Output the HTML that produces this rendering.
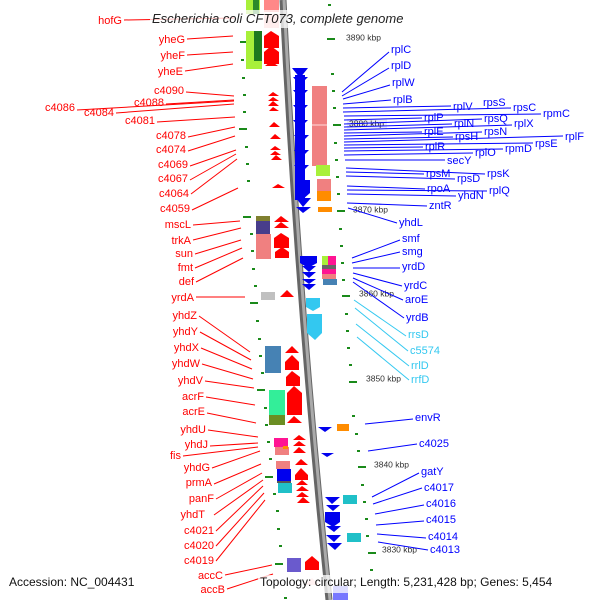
<!DOCTYPE html>
<html><head><meta charset="utf-8"><style>
html,body{margin:0;padding:0;background:#fff;width:600px;height:600px;overflow:hidden}
svg text{font-family:"Liberation Sans",sans-serif}
.r{fill:#f00;font-size:11px;text-anchor:end;dominant-baseline:middle}
.b{fill:#00f;font-size:11px;dominant-baseline:middle}
.c{fill:#33c8f0;font-size:11px;dominant-baseline:middle}
.k{fill:#333;font-size:8.5px;dominant-baseline:middle}
.lr line{stroke:#f00;stroke-width:1}
.lb line{stroke:#00f;stroke-width:1}
.lc line{stroke:#33c8f0;stroke-width:1}
.tk rect{fill:#1a8a1a}
</style></head><body>
<svg width="600" height="600" viewBox="0 0 600 600" xmlns="http://www.w3.org/2000/svg">
<!-- backbone -->
<path d="M283,0 Q298,300 329,600" stroke="#666" stroke-width="7" fill="none"/>
<path d="M284,0 Q299,300 330,600" stroke="#aaa" stroke-width="3" fill="none"/>

<!-- ticks left -->
<g class="tk">
<rect x="240" y="41" width="8" height="2"/><rect x="241" y="59" width="3" height="2"/><rect x="242" y="77" width="3" height="2"/>
<rect x="243" y="94" width="3" height="2"/><rect x="243" y="111" width="3" height="2"/><rect x="239" y="128" width="8" height="2"/>
<rect x="245" y="146" width="3" height="2"/><rect x="246" y="163" width="3" height="2"/><rect x="247" y="180" width="3" height="2"/>
<rect x="243" y="216" width="8" height="2"/><rect x="250" y="233" width="3" height="2"/><rect x="251" y="250" width="3" height="2"/>
<rect x="252" y="268" width="3" height="2"/><rect x="254" y="285" width="3" height="2"/><rect x="250" y="302" width="8" height="2"/>
<rect x="256" y="320" width="3" height="2"/><rect x="258" y="338" width="3" height="2"/><rect x="259" y="355" width="3" height="2"/>
<rect x="261" y="372" width="3" height="2"/><rect x="257" y="389" width="8" height="2"/><rect x="264" y="407" width="3" height="2"/>
<rect x="265" y="424" width="3" height="2"/><rect x="267" y="441" width="3" height="2"/><rect x="269" y="458" width="3" height="2"/>
<rect x="265" y="476" width="8" height="2"/><rect x="273" y="493" width="3" height="2"/><rect x="276" y="510" width="3" height="2"/>
<rect x="277" y="528" width="3" height="2"/><rect x="279" y="545" width="3" height="2"/><rect x="275" y="563" width="8" height="2"/>
<rect x="284" y="597" width="3" height="2"/>
</g>
<!-- ticks right -->
<g class="tk">
<rect x="328" y="4" width="3" height="2"/><rect x="327" y="38" width="8" height="2"/><rect x="331" y="73" width="3" height="2"/>
<rect x="332" y="90" width="3" height="2"/><rect x="333" y="107" width="3" height="2"/><rect x="333" y="124" width="8" height="2"/>
<rect x="334" y="142" width="3" height="2"/><rect x="335" y="159" width="3" height="2"/><rect x="336" y="176" width="3" height="2"/>
<rect x="337" y="193" width="3" height="2"/><rect x="337" y="210" width="8" height="2"/><rect x="339" y="228" width="3" height="2"/>
<rect x="340" y="245" width="3" height="2"/><rect x="341" y="262" width="3" height="2"/><rect x="342" y="279" width="3" height="2"/>
<rect x="342" y="295" width="8" height="2"/><rect x="345" y="313" width="3" height="2"/><rect x="346" y="330" width="3" height="2"/>
<rect x="347" y="347" width="3" height="2"/><rect x="349" y="364" width="3" height="2"/><rect x="349" y="381" width="8" height="2"/>
<rect x="352" y="415" width="3" height="2"/><rect x="355" y="433" width="3" height="2"/><rect x="357" y="450" width="3" height="2"/>
<rect x="358" y="466" width="8" height="2"/><rect x="361" y="484" width="3" height="2"/><rect x="363" y="501" width="3" height="2"/>
<rect x="365" y="518" width="3" height="2"/><rect x="366" y="535" width="3" height="2"/><rect x="368" y="552" width="8" height="2"/>
<rect x="370" y="569" width="3" height="2"/>
</g>

<!-- left feature boxes -->
<rect x="246" y="0" width="14" height="14" fill="#a8f03a"/><rect x="253" y="0" width="6" height="14" fill="#2a8a2a"/>
<rect x="246" y="31" width="16" height="38" fill="#a8f03a"/><rect x="254" y="31" width="8" height="30" fill="#1e7a1e"/>
<rect x="256" y="216" width="14" height="5" fill="#808030"/>
<rect x="256" y="221" width="14" height="13" fill="#483d8b"/>
<rect x="256" y="234" width="15" height="25" fill="#f08080"/>
<rect x="261" y="292" width="14" height="8" fill="#c0c0c0"/>
<rect x="265" y="346" width="16" height="27" fill="#4682b4"/>
<rect x="269" y="390" width="16" height="25" fill="#33ee99"/><rect x="269" y="415" width="16" height="10" fill="#6b8e23"/>
<rect x="274" y="438" width="14" height="9" fill="#ff1493"/><rect x="275" y="447" width="14" height="8" fill="#f08080"/>
<rect x="283" y="446" width="5" height="3" fill="#ff8c00"/>
<rect x="276" y="461" width="14" height="8" fill="#f08080"/><rect x="277" y="469" width="14" height="12" fill="#0000ee"/>
<rect x="277" y="481" width="14" height="2" fill="#555"/><rect x="278" y="483" width="14" height="10" fill="#20c0c8"/>
<rect x="287" y="558" width="14" height="14" fill="#6a5acd"/>

<!-- left red arrows (up) -->
<g fill="#f00">
<rect x="264" y="0" width="15" height="12" fill="#f88"/>
<polygon points="264,14 279,14 279,28 264,28" fill="#fbb"/>
<polygon points="264,36 271,31 279,36 279,48 264,48"/>
<polygon points="264,52 271,46 279,52 279,64 264,64"/>
<polygon points="265,66 271,61 278,66"/>
<polygon points="268,96 273,92 279,96"/><polygon points="268,101 273,97 279,101"/><polygon points="268,106 273,101 279,106"/><polygon points="269,111 273,107 279,111"/>
<polygon points="269,127 274,122 280,127"/>
<polygon points="270,139 275,134 281,139"/><polygon points="270,150 275,146 281,150"/><polygon points="270,155 275,151 281,155"/><polygon points="271,160 276,155 282,160"/>
<polygon points="272,188 278,184 285,188"/>
<polygon points="274,222 281,216 289,222"/><polygon points="274,228 281,222 289,228"/>
<polygon points="274,238 281,233 289,238 289,248 274,248"/>
<polygon points="275,252 282,247 289,252 289,258 275,258"/>
<polygon points="280,297 287,290 294,297"/>
<polygon points="285,353 292,346 299,353"/><polygon points="285,362 292,355 299,362 299,370 285,370"/><polygon points="286,377 292,371 300,377 300,386 286,386"/>
<polygon points="287,393 294,386 302,393 302,415 287,415"/><polygon points="287,423 294,416 302,423"/>
<polygon points="293,440 299,435 306,440"/><polygon points="293,446 299,441 306,446"/><polygon points="293,453 299,447 306,453"/>
<polygon points="295,465 301,459 308,465"/><polygon points="295,475 301,468 308,475 308,480 295,480"/><polygon points="296,485 302,480 308,485"/><polygon points="296,491 302,486 309,491"/><polygon points="296,497 302,492 309,497"/><polygon points="297,503 303,497 310,503"/>
<polygon points="305,562 312,556 319,562 319,570 305,570"/>
<polygon points="305,585 312,578 319,585" fill="#fcc"/>
</g>

<!-- right blue arrows (down) -->
<g fill="#0000ee">
<polygon points="292,68 308,68 300,78"/>
<rect x="295" y="75" width="10" height="125"/>
<polygon points="293,77 308,77 300,85"/><polygon points="293,90 308,90 300,98"/><polygon points="293,105 308,105 300,113"/><polygon points="293,120 308,120 300,128"/><polygon points="294,135 309,135 301,143"/><polygon points="294,150 309,150 301,158"/><polygon points="294,165 309,165 301,173"/>
<polygon points="295,180 310,180 310,193 302,200 295,193"/>
<polygon points="296,198 311,198 303,207"/><polygon points="296,207 311,207 303,213"/>
<polygon points="300,256 317,256 317,263 308,268 300,263"/><polygon points="302,266 316,266 309,272"/><polygon points="302,272 316,272 309,278"/><polygon points="302,279 316,279 309,284"/><polygon points="302,284 316,284 309,290"/>
<polygon points="318,427 332,427 325,432"/><polygon points="321,453 334,453 327,457"/>
<polygon points="325,497 340,497 332,504"/><polygon points="326,505 340,505 333,511"/><polygon points="325,512 340,512 340,522 333,527 325,522"/><polygon points="326,526 341,526 334,532"/><polygon points="326,535 341,535 334,542"/><polygon points="327,543 342,543 335,550"/>
<rect x="333" y="586" width="15" height="14" fill="#77f"/>
</g>
<g fill="#33c8f0">
<polygon points="306,298 320,298 320,307 313,311 306,307"/>
<polygon points="307,314 322,314 322,333 315,340 307,333"/>
</g>

<!-- right boxes -->
<rect x="312" y="86" width="15" height="80" fill="#f08080"/>
<line x1="312" y1="125" x2="327" y2="125" stroke="#fdd"/>
<rect x="316" y="165" width="14" height="11" fill="#a8f03a"/>
<rect x="317" y="179" width="14" height="12" fill="#f08080"/>
<rect x="317" y="191" width="14" height="10" fill="#ff8c00"/>
<rect x="318" y="207" width="14" height="5" fill="#ff8c00"/>
<rect x="322" y="256" width="6" height="9" fill="#a8f03a"/><rect x="328" y="256" width="8" height="9" fill="#ff1493"/>
<rect x="322" y="265" width="14" height="4" fill="#666"/>
<rect x="322" y="269" width="14" height="5" fill="#ff1493"/>
<rect x="322" y="274" width="14" height="5" fill="#f08080"/>
<rect x="323" y="279" width="14" height="6" fill="#4682b4"/>
<rect x="337" y="424" width="12" height="7" fill="#ff8c00"/>
<rect x="343" y="495" width="14" height="9" fill="#20c0c8"/>
<rect x="347" y="533" width="14" height="9" fill="#20c0c8"/>

<!-- kbp labels -->
<text class="k" x="346" y="38">3890 kbp</text>
<rect x="347" y="119" width="40" height="10" fill="#dde" opacity="0.6"/>
<text class="k" x="349" y="124">3880 kbp</text>
<text class="k" x="353" y="210">3870 kbp</text>
<text class="k" x="359" y="294">3860 kbp</text>
<text class="k" x="366" y="379">3850 kbp</text>
<text class="k" x="374" y="465">3840 kbp</text>
<text class="k" x="382" y="550">3830 kbp</text>

<!-- left labels -->
<g class="lr">
<line x1="124" y1="20" x2="234" y2="18"/><line x1="187" y1="39" x2="233" y2="36"/><line x1="187" y1="55" x2="233" y2="52"/><line x1="185" y1="71" x2="233" y2="64"/>
<line x1="186" y1="92" x2="234" y2="96"/><line x1="166" y1="104" x2="234" y2="100"/><line x1="77" y1="110" x2="234" y2="101"/><line x1="116" y1="113" x2="234" y2="104"/>
<line x1="157" y1="122" x2="235" y2="117"/><line x1="188" y1="137" x2="235" y2="127"/><line x1="188" y1="151" x2="235" y2="136"/><line x1="190" y1="166" x2="236" y2="150"/>
<line x1="190" y1="180" x2="236" y2="154"/><line x1="191" y1="194" x2="237" y2="159"/><line x1="192" y1="210" x2="238" y2="188"/>
<line x1="193" y1="225" x2="240" y2="221"/><line x1="193" y1="240" x2="241" y2="228"/><line x1="195" y1="254" x2="241" y2="240"/><line x1="195" y1="268" x2="242" y2="248"/><line x1="196" y1="282" x2="243" y2="258"/>
<line x1="196" y1="297" x2="245" y2="297"/>
<line x1="199" y1="316" x2="250" y2="352"/><line x1="200" y1="332" x2="251" y2="360"/><line x1="201" y1="348" x2="252" y2="369"/><line x1="202" y1="364" x2="253" y2="379"/><line x1="205" y1="381" x2="254" y2="388"/>
<line x1="206" y1="397" x2="255" y2="405"/><line x1="207" y1="413" x2="256" y2="423"/><line x1="208" y1="430" x2="258" y2="437"/><line x1="210" y1="446" x2="258" y2="443"/>
<line x1="183" y1="456" x2="258" y2="447"/><line x1="212" y1="468" x2="260" y2="451"/><line x1="214" y1="484" x2="261" y2="464"/><line x1="216" y1="499" x2="262" y2="473"/>
<line x1="214" y1="515" x2="263" y2="480"/><line x1="216" y1="531" x2="263" y2="486"/><line x1="216" y1="546" x2="264" y2="493"/><line x1="216" y1="561" x2="265" y2="500"/>
<line x1="225" y1="575" x2="272" y2="565"/><line x1="227" y1="589" x2="273" y2="574"/>
</g>
<g>
<text class="r" x="122" y="21">hofG</text>
<text class="r" x="185" y="40">yheG</text><text class="r" x="185" y="56">yheF</text><text class="r" x="183" y="72">yheE</text>
<text class="r" x="184" y="91">c4090</text><text class="r" x="164" y="103">c4088</text><text class="r" x="75" y="108">c4086</text><text class="r" x="114" y="113">c4084</text>
<text class="r" x="155" y="121">c4081</text><text class="r" x="186" y="136">c4078</text><text class="r" x="186" y="150">c4074</text><text class="r" x="188" y="165">c4069</text>
<text class="r" x="188" y="179">c4067</text><text class="r" x="189" y="194">c4064</text><text class="r" x="190" y="209">c4059</text>
<text class="r" x="191" y="225">mscL</text><text class="r" x="191" y="241">trkA</text><text class="r" x="193" y="254">sun</text><text class="r" x="193" y="268">fmt</text><text class="r" x="194" y="282">def</text>
<text class="r" x="194" y="298">yrdA</text>
<text class="r" x="197" y="316">yhdZ</text><text class="r" x="198" y="332">yhdY</text><text class="r" x="199" y="348">yhdX</text><text class="r" x="200" y="364">yhdW</text><text class="r" x="203" y="381">yhdV</text>
<text class="r" x="204" y="397">acrF</text><text class="r" x="205" y="412">acrE</text><text class="r" x="206" y="430">yhdU</text><text class="r" x="208" y="445">yhdJ</text>
<text class="r" x="181" y="456">fis</text><text class="r" x="210" y="468">yhdG</text><text class="r" x="212" y="483">prmA</text><text class="r" x="214" y="499">panF</text>
<text class="r" x="205" y="515">yhdT</text><text class="r" x="214" y="531">c4021</text><text class="r" x="214" y="546">c4020</text><text class="r" x="214" y="561">c4019</text>
<text class="r" x="223" y="576">accC</text><text class="r" x="225" y="590">accB</text>
</g>

<!-- right labels -->
<g class="lb">
<line x1="342" y1="92" x2="389" y2="52"/><line x1="342" y1="96" x2="389" y2="68"/><line x1="343" y1="99" x2="390" y2="85"/><line x1="343" y1="104" x2="391" y2="100"/>
<line x1="343" y1="108" x2="451" y2="106"/><line x1="343" y1="112" x2="511" y2="108"/><line x1="344" y1="116" x2="541" y2="114"/><line x1="344" y1="120" x2="422" y2="118"/>
<line x1="344" y1="124" x2="482" y2="119"/><line x1="344" y1="127" x2="452" y2="124"/><line x1="344" y1="130" x2="512" y2="125"/><line x1="344" y1="133" x2="422" y2="132"/>
<line x1="344" y1="136" x2="482" y2="132"/><line x1="344" y1="139" x2="453" y2="137"/><line x1="344" y1="142" x2="563" y2="136"/><line x1="344" y1="145" x2="533" y2="143"/>
<line x1="344" y1="148" x2="423" y2="147"/><line x1="344" y1="151" x2="503" y2="149"/><line x1="344" y1="155" x2="473" y2="153"/><line x1="345" y1="160" x2="445" y2="160"/>
<line x1="346" y1="168" x2="485" y2="174"/><line x1="346" y1="172" x2="424" y2="174"/><line x1="346" y1="176" x2="455" y2="179"/>
<line x1="347" y1="186" x2="425" y2="189"/><line x1="347" y1="190" x2="487" y2="191"/><line x1="347" y1="194" x2="456" y2="196"/>
<line x1="347" y1="203" x2="427" y2="206"/><line x1="348" y1="208" x2="397" y2="223"/>
<line x1="352" y1="258" x2="400" y2="240"/><line x1="352" y1="263" x2="400" y2="252"/><line x1="353" y1="268" x2="400" y2="268"/><line x1="353" y1="273" x2="402" y2="286"/>
<line x1="353" y1="278" x2="403" y2="300"/><line x1="353" y1="282" x2="404" y2="318"/>
<line x1="365" y1="424" x2="413" y2="419"/><line x1="368" y1="451" x2="417" y2="444"/><line x1="372" y1="497" x2="419" y2="473"/><line x1="373" y1="504" x2="422" y2="488"/>
<line x1="375" y1="514" x2="424" y2="505"/><line x1="376" y1="525" x2="424" y2="521"/><line x1="377" y1="534" x2="426" y2="538"/><line x1="378" y1="542" x2="428" y2="550"/>
</g>
<g class="lc">
<line x1="354" y1="300" x2="406" y2="336"/><line x1="355" y1="308" x2="408" y2="351"/><line x1="356" y1="324" x2="409" y2="366"/><line x1="357" y1="337" x2="409" y2="380"/>
</g>
<g>
<text class="b" x="391" y="50">rplC</text><text class="b" x="391" y="66">rplD</text><text class="b" x="392" y="83">rplW</text><text class="b" x="393" y="100">rplB</text>
<text class="b" x="453" y="107">rplV</text><text class="b" x="483" y="103">rpsS</text><text class="b" x="513" y="108">rpsC</text><text class="b" x="543" y="114">rpmC</text>
<text class="b" x="424" y="118">rplP</text><text class="b" x="484" y="119">rpsQ</text><text class="b" x="454" y="124">rplN</text><text class="b" x="514" y="124">rplX</text>
<text class="b" x="424" y="132">rplE</text><text class="b" x="484" y="132">rpsN</text><text class="b" x="455" y="137">rpsH</text><text class="b" x="565" y="137">rplF</text>
<text class="b" x="535" y="144">rpsE</text><text class="b" x="425" y="147">rplR</text><text class="b" x="475" y="153">rplO</text><text class="b" x="505" y="149">rpmD</text>
<text class="b" x="447" y="161">secY</text><text class="b" x="426" y="174">rpsM</text><text class="b" x="457" y="179">rpsD</text><text class="b" x="487" y="174">rpsK</text>
<text class="b" x="427" y="189">rpoA</text><text class="b" x="489" y="191">rplQ</text><text class="b" x="458" y="196">yhdN</text><text class="b" x="429" y="206">zntR</text><text class="b" x="399" y="223">yhdL</text>
<text class="b" x="402" y="239">smf</text><text class="b" x="402" y="252">smg</text><text class="b" x="402" y="267">yrdD</text><text class="b" x="404" y="286">yrdC</text>
<text class="b" x="405" y="300">aroE</text><text class="b" x="406" y="318">yrdB</text>
<text class="c" x="408" y="335">rrsD</text><text class="c" x="410" y="351">c5574</text><text class="c" x="411" y="366">rrlD</text><text class="c" x="411" y="380">rrfD</text>
<text class="b" x="415" y="418">envR</text><text class="b" x="419" y="444">c4025</text><text class="b" x="421" y="472">gatY</text><text class="b" x="424" y="488">c4017</text>
<text class="b" x="426" y="504">c4016</text><text class="b" x="426" y="520">c4015</text><text class="b" x="428" y="537">c4014</text><text class="b" x="430" y="550">c4013</text>
</g>

<!-- title & footer -->
<rect x="150" y="10" width="280" height="18" fill="#fff" opacity="0.75"/>
<text x="152" y="23" font-size="13" font-style="italic" fill="#222">Escherichia coli CFT073, complete genome</text>
<rect x="258" y="575" width="340" height="18" fill="#fff" opacity="0.75"/>
<text x="9" y="586" font-size="12" fill="#111">Accession: NC_004431</text>
<text x="260" y="586" font-size="12" fill="#111">Topology: circular; Length: 5,231,428 bp; Genes: 5,454</text>
</svg>
</body></html>
